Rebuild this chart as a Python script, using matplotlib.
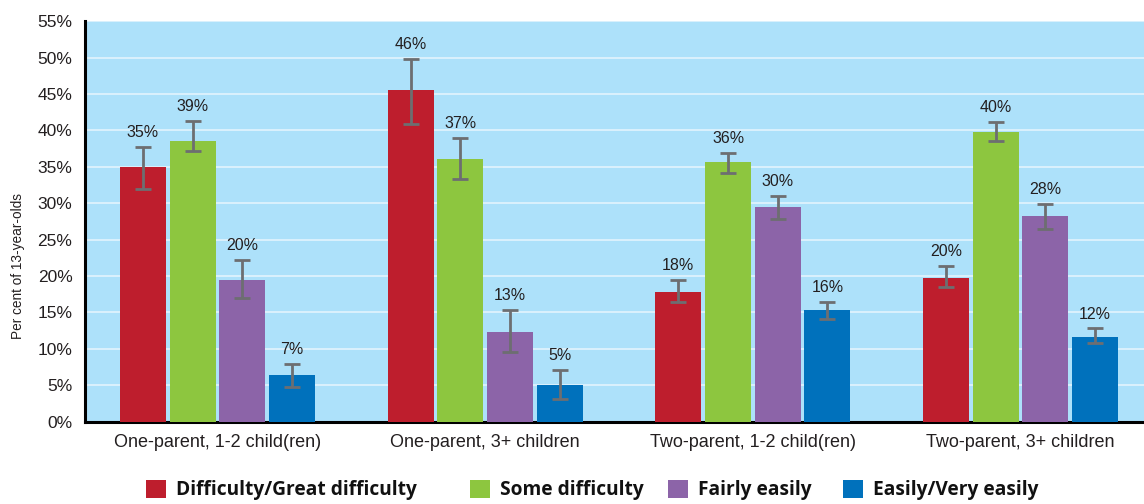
import matplotlib
matplotlib.use("Agg")
import matplotlib.pyplot as plt
from matplotlib.patches import Patch
import numpy as np

categories = ["One-parent, 1-2 child(ren)", "One-parent, 3+ children",
              "Two-parent, 1-2 child(ren)", "Two-parent, 3+ children"]
series = ["Difficulty/Great difficulty", "Some difficulty", "Fairly easily", "Easily/Very easily"]

difficulty = [35.0, 45.6, 17.8, 19.8]
difficulty_lo = [31.9, 40.9, 16.4, 18.5]
difficulty_hi = [37.7, 49.8, 19.4, 21.4]
difficulty_labels = ["35%", "46%", "18%", "20%"]

some = [38.6, 36.1, 35.7, 39.8]
some_lo = [37.2, 33.3, 34.2, 38.6]
some_hi = [41.3, 39.0, 36.9, 41.1]
some_labels = ["39%", "37%", "36%", "40%"]

fairly = [19.4, 12.3, 29.5, 28.2]
fairly_lo = [17.0, 9.6, 27.9, 26.4]
fairly_hi = [22.2, 15.3, 31.0, 29.9]
fairly_labels = ["20%", "13%", "30%", "28%"]

easily = [6.4, 5.0, 15.4, 11.7]
easily_lo = [4.8, 3.1, 14.1, 10.8]
easily_hi = [7.9, 7.1, 16.5, 12.8]
easily_labels = ["7%", "5%", "16%", "12%"]

yticks = [0, 5, 10, 15, 20, 25, 30, 35, 40, 45, 50, 55]
ytick_labels = [f"{v}%" for v in yticks]

colors = ["#BE1E2D", "#8DC63F", "#8C64A8", "#0071BC"]
bg = "#ADE1FA"
err_color = "#6D6E71"

values = [difficulty, some, fairly, easily]
los = [difficulty_lo, some_lo, fairly_lo, easily_lo]
his = [difficulty_hi, some_hi, fairly_hi, easily_hi]
labels = [difficulty_labels, some_labels, fairly_labels, easily_labels]

plt.rcParams['font.family'] = ['Liberation Sans', 'DejaVu Sans']

fig = plt.figure(figsize=(11.44, 5.04), dpi=100)
ax = fig.add_axes([85/1144, 82.3/504, 1 - 85/1144, 400.5/504])
ax.set_facecolor(bg)

x = np.arange(len(categories))
step = 0.1857
width = 0.172
for i in range(4):
    pos = x + (i - 1.5) * step
    v = np.array(values[i])
    lo = v - np.array(los[i])
    hi = np.array(his[i]) - v
    ax.bar(pos, v, width=width, color=colors[i], zorder=3)
    ax.errorbar(pos, v, yerr=[lo, hi], fmt='none', ecolor=err_color,
                elinewidth=2, capsize=6, capthick=2, zorder=4)
    for p, top, lab in zip(pos, his[i], labels[i]):
        ax.annotate(lab, (p, top), xytext=(0, 5), textcoords='offset points',
                    ha='center', va='bottom', fontsize=11.5, color='#231F20', zorder=5)

ax.set_ylim(0, 55)
ax.set_xlim(-0.495, 3.461)
ax.set_yticks(yticks)
ax.set_yticklabels(ytick_labels, fontsize=12.5, color='#231F20')
ax.yaxis.grid(True, color='#E2F4FD', linewidth=1.2, zorder=0)
ax.set_axisbelow(True)

ax.set_xticks(x)
ax.set_xticklabels(categories, fontsize=13, color='#231F20')
ax.tick_params(axis='both', length=0)
ax.tick_params(axis='y', pad=9)
ax.tick_params(axis='x', pad=9)

for s in ['top', 'right']:
    ax.spines[s].set_visible(False)
for s in ['left', 'bottom']:
    ax.spines[s].set_color('#000000')
    ax.spines[s].set_linewidth(2.2)

ax.set_ylabel("Per cent of 13-year-olds", fontsize=9.8, color='#231F20')
ax.yaxis.set_label_coords(-0.0567, 0.39)

# legend entries placed individually (left edge of each swatch, in pixels)
legend_x = [146, 470, 668, 843]
for c, name, lx in zip(colors, series, legend_x):
    fig.legend([Patch(facecolor=c, edgecolor='none')], [name], loc='center left',
               bbox_to_anchor=(lx/1144, 14/504), frameon=False,
               prop={'family': 'Open Sans', 'weight': 'bold', 'size': 13.8},
               handlelength=1.05, handleheight=1.05, handletextpad=0.52,
               borderpad=0, borderaxespad=0, labelcolor='#111111')

fig.savefig("out.png", dpi=100)
